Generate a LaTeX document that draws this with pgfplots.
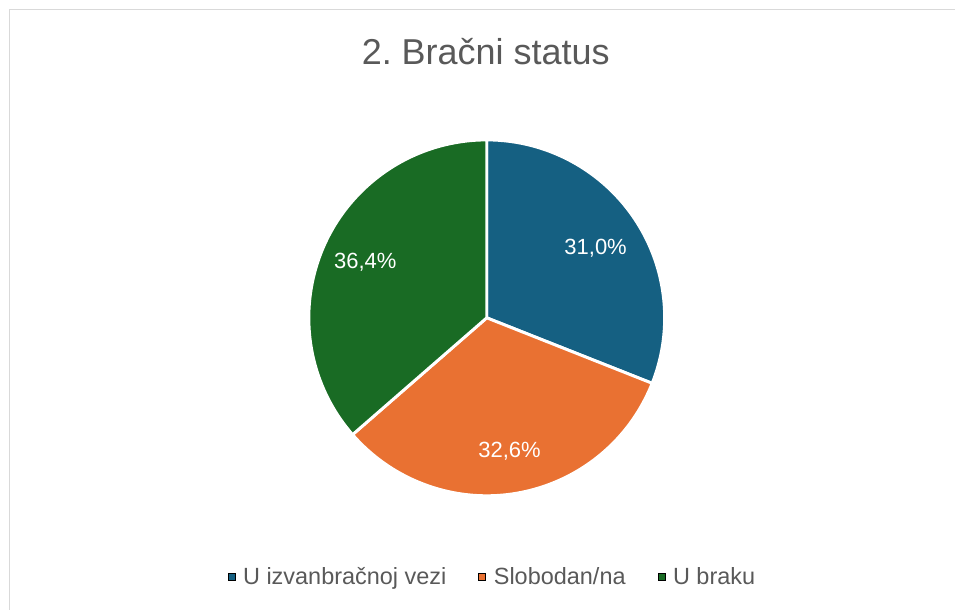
\documentclass[border=0pt]{standalone}
\usepackage{fontspec}
\setmainfont{Liberation Sans}
\usepackage{pgfplots}
\usepackage{pgfplotstable}
\pgfplotsset{compat=1.18}
\frenchspacing

\definecolor{cBlue}{HTML}{156082}
\definecolor{cOrange}{HTML}{E97132}
\definecolor{cGreen}{HTML}{196B24}
\definecolor{txtgray}{HTML}{595959}
\definecolor{frame}{HTML}{D9D9D9}

% share of respondents (%)
\pgfplotstableread[col sep=comma]{
label,value
U izvanbračnoj vezi,31.0
Slobodan/na,32.6
U braku,36.4
}\piedata

\begin{document}
\begin{tikzpicture}
% slice angles, clockwise from 12 o'clock
\pgfplotstablegetelem{0}{value}\of\piedata \let\vA\pgfplotsretval
\pgfplotstablegetelem{1}{value}\of\piedata \let\vB\pgfplotsretval
\pgfplotstablegetelem{2}{value}\of\piedata \let\vC\pgfplotsretval
\pgfmathsetmacro\sA{90}
\pgfmathsetmacro\eA{\sA-3.6*\vA}
\pgfmathsetmacro\eB{\eA-3.6*\vB}
\pgfmathsetmacro\eC{\eB-3.6*\vC}
\pgfmathsetmacro\mA{(\sA+\eA)/2}
\pgfmathsetmacro\mB{(\eA+\eB)/2}
\pgfmathsetmacro\mC{(\eB+\eC)/2}
\def\cx{487}\def\cy{292}\def\R{178}
\pgfkeys{/pgf/number format/.cd, fixed, fixed zerofill, precision=1, use comma, assume math mode=true}
\begin{axis}[
  scale only axis, width=716.25pt, height=457.5pt,
  xmin=0, xmax=955, ymin=0, ymax=610,
  hide axis, clip=false,
  legend columns=3,
  legend image code/.code={\fill[#1] (0pt,-2.6pt) rectangle (5.2pt,2.6pt);},
  legend style={at={(axis cs:493,33)}, anchor=center, draw=none, fill=none,
    font=\fontsize{17.6}{20}\selectfont, text=txtgray,
    /tikz/every even column/.append style={column sep=22pt},
    /tikz/every odd column/.append style={column sep=4pt}},
]
\path (axis cs:0,0) rectangle (axis cs:955,610);
\draw[frame, line width=0.75pt] (axis cs:10,0) -- (axis cs:10,600) -- (axis cs:955,600);
\node[txtgray, font=\fontsize{27}{31}\selectfont] at (axis cs:486,558) {2. Bračni status};

\filldraw[fill=cBlue, draw=white, line width=2.2pt, line join=round]
  (axis cs:\cx,\cy) -- (axis cs:{\cx+\R*cos(\sA)},{\cy+\R*sin(\sA)})
  arc[start angle=\sA, end angle=\eA, radius=133.5pt] -- cycle;
\filldraw[fill=cOrange, draw=white, line width=2.2pt, line join=round]
  (axis cs:\cx,\cy) -- (axis cs:{\cx+\R*cos(\eA)},{\cy+\R*sin(\eA)})
  arc[start angle=\eA, end angle=\eB, radius=133.5pt] -- cycle;
\filldraw[fill=cGreen, draw=white, line width=2.2pt, line join=round]
  (axis cs:\cx,\cy) -- (axis cs:{\cx+\R*cos(\eB)},{\cy+\R*sin(\eB)})
  arc[start angle=\eB, end angle=\eC, radius=133.5pt] -- cycle;

\node[white, font=\fontsize{16.5}{19}\selectfont] at (axis cs:{\cx+0.74*\R*cos(\mA)},{\cy+0.74*\R*sin(\mA)-4})
  {\pgfmathprintnumber{\vA}\%};
\node[white, font=\fontsize{16.5}{19}\selectfont] at (axis cs:{\cx+0.76*\R*cos(\mB)},{\cy+0.76*\R*sin(\mB)})
  {\pgfmathprintnumber{\vB}\%};
\node[white, font=\fontsize{16.5}{19}\selectfont] at (axis cs:{\cx+0.75*\R*cos(\mC)},{\cy+0.75*\R*sin(\mC)})
  {\pgfmathprintnumber{\vC}\%};

\addlegendimage{fill=cBlue}
\addlegendentry{U izvanbračnoj vezi}
\addlegendimage{fill=cOrange}
\addlegendentry{Slobodan/na}
\addlegendimage{fill=cGreen}
\addlegendentry{U braku}
\end{axis}
\end{tikzpicture}
\end{document}
